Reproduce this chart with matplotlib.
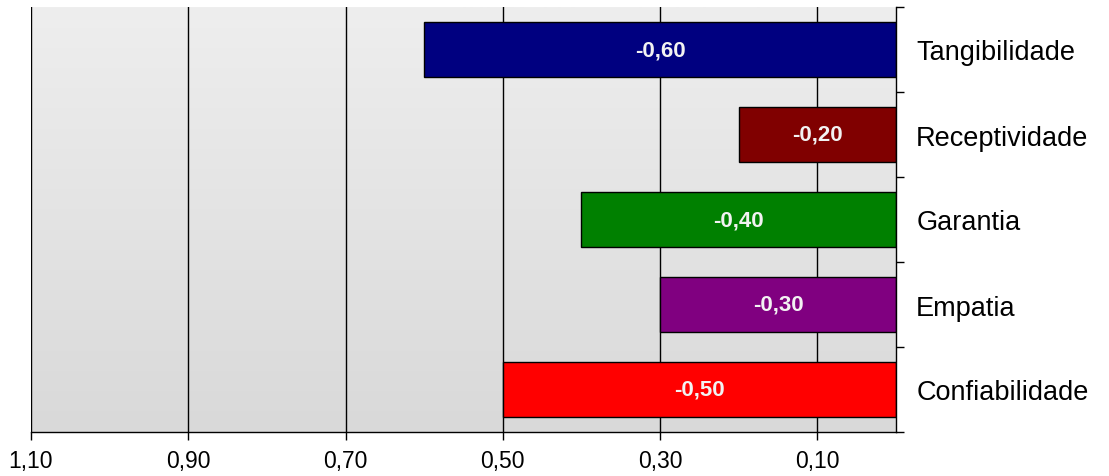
import matplotlib.pyplot as plt
import numpy as np
from matplotlib.colors import LinearSegmentedColormap
from matplotlib.ticker import FixedLocator

# Dimension scores (negative gaps)
dimensions = ["Tangibilidade", "Receptividade", "Garantia", "Empatia", "Confiabilidade"]
scores = [-0.60, -0.20, -0.40, -0.30, -0.50]
bar_colors = ["#000080", "#800000", "#008000", "#800080", "#ff0000"]
x_ticks = [1.10, 0.90, 0.70, 0.50, 0.30, 0.10]

plt.rcParams["font.family"] = ["Liberation Sans", "DejaVu Sans"]

fig = plt.figure(figsize=(11.09, 4.77), dpi=100)
ax = fig.add_axes([31 / 1109, 44 / 477, 865 / 1109, 425 / 477])

# Gradient background of the plot area
grad = np.linspace(0, 1, 256).reshape(-1, 1)
bg_cmap = LinearSegmentedColormap.from_list("bg", ["#eeeeee", "#d9d9d9"])
ax.imshow(grad, cmap=bg_cmap, aspect="auto", extent=[0, 1, 0, 1],
          transform=ax.transAxes, zorder=0)

n = len(dimensions)
ypos = np.arange(n)[::-1]
widths = [abs(s) for s in scores]
ax.barh(ypos, widths, left=0, height=0.64, color=bar_colors,
        edgecolor="black", linewidth=1, zorder=2)

for y, w, s in zip(ypos, widths, scores):
    ax.text(w / 2, y, f"{s:.2f}".replace(".", ","), ha="center", va="center",
            color="#f2f2f2", fontsize=16, fontweight="bold", zorder=3)

ax.set_xlim(1.1, 0)
ax.set_ylim(-0.5, n - 0.5)

ax.set_xticks(x_ticks)
ax.set_xticklabels([f"{t:.2f}".replace(".", ",") for t in x_ticks], fontsize=16.5)
ax.grid(axis="x", color="black", linewidth=1)
ax.set_axisbelow(True)

ax.yaxis.tick_right()
ax.set_yticks(ypos)
ax.set_yticklabels(dimensions, fontsize=19.5)
ax.yaxis.set_minor_locator(FixedLocator(np.arange(-0.5, n, 1.0)))
ax.tick_params(axis="y", which="major", length=0, pad=14.5)
ax.tick_params(axis="y", which="minor", length=6, width=1, direction="out")
ax.tick_params(axis="x", length=6, width=1, pad=6)

ax.spines["top"].set_visible(False)
ax.spines["left"].set_visible(False)
for side in ("right", "bottom"):
    ax.spines[side].set_linewidth(1)

fig.savefig("out.png", dpi=100)
